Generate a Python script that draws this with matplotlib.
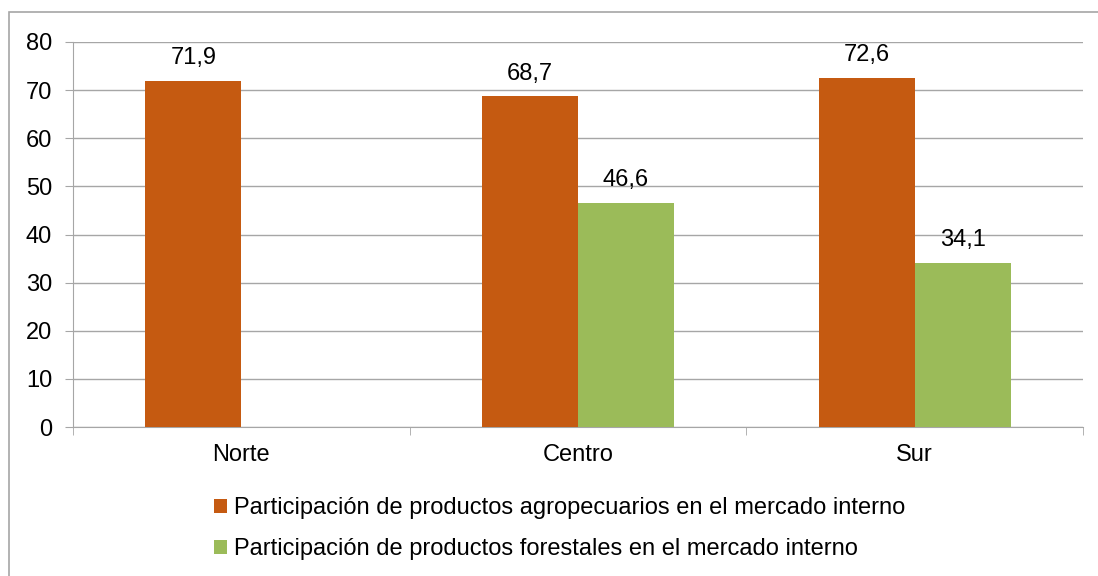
import numpy as np
import matplotlib.pyplot as plt
from matplotlib.patches import Rectangle, Patch

# datos
regiones = ['Norte', 'Centro', 'Sur']
agropecuarios = [71.9, 68.7, 72.6]
forestales = [np.nan, 46.6, 34.1]
series_nombres = ['Participación de productos agropecuarios en el mercado interno',
                  'Participación de productos forestales en el mercado interno']
colores = ['#C55A11', '#9BBB59']

plt.rcParams['font.family'] = ['Liberation Sans', 'DejaVu Sans']
W, H = 1098, 576
fs = 17
fig = plt.figure(figsize=(W / 100, H / 100), dpi=100)

# marco exterior del grafico (cortado a la derecha y abajo)
fig.patches.append(Rectangle((9 / W, -0.1), 1.2, (576 - 12) / H + 0.1, transform=fig.transFigure,
                             fill=False, edgecolor='#A6A6A6', linewidth=1.2))

ax = fig.add_axes([73 / W, (H - 427) / H, 1010 / W, 385 / H])
x = np.arange(len(regiones))
bw = 0.285
b1 = ax.bar(x - bw / 2, agropecuarios, bw, color=colores[0], zorder=3)
b2 = ax.bar(x + bw / 2, forestales, bw, color=colores[1], zorder=3)

for barras, vals in [(b1, agropecuarios), (b2, forestales)]:
    for b, v in zip(barras, vals):
        if np.isnan(v):
            continue
        ax.annotate(f'{v:.1f}'.replace('.', ','), (b.get_x() + b.get_width() / 2, v),
                    xytext=(0, 12), textcoords='offset points', ha='center', va='baseline',
                    fontsize=fs, zorder=4)

ax.set_xlim(-0.5, 2.5)
ax.set_ylim(0, 80)
ax.set_yticks(range(0, 81, 10))
ax.yaxis.grid(True, color='#A6A6A6', linewidth=1, zorder=0)
for s in ['top', 'right']:
    ax.spines[s].set_visible(False)
for s in ['left', 'bottom']:
    ax.spines[s].set_color('#A6A6A6')
ax.set_xticks(x)
ax.set_xticklabels(regiones, fontsize=fs)
ax.tick_params(axis='x', length=0, pad=12)
ax.tick_params(axis='y', length=6, color='#A6A6A6', labelsize=fs, pad=9)
ax.set_xticks([-0.5, 0.5, 1.5, 2.5], minor=True)
ax.tick_params(axis='x', which='minor', length=6, color='#A6A6A6')

handles = [Patch(facecolor=c) for c in colores]
fig.legend(handles, series_nombres, loc='upper left', bbox_to_anchor=(214 / W, (H - 497) / H),
           frameon=False, fontsize=fs, handlelength=0.55, handleheight=0.55,
           handletextpad=0.3, labelspacing=0.82, borderpad=0, borderaxespad=0)

fig.savefig('out.png', dpi=100)
